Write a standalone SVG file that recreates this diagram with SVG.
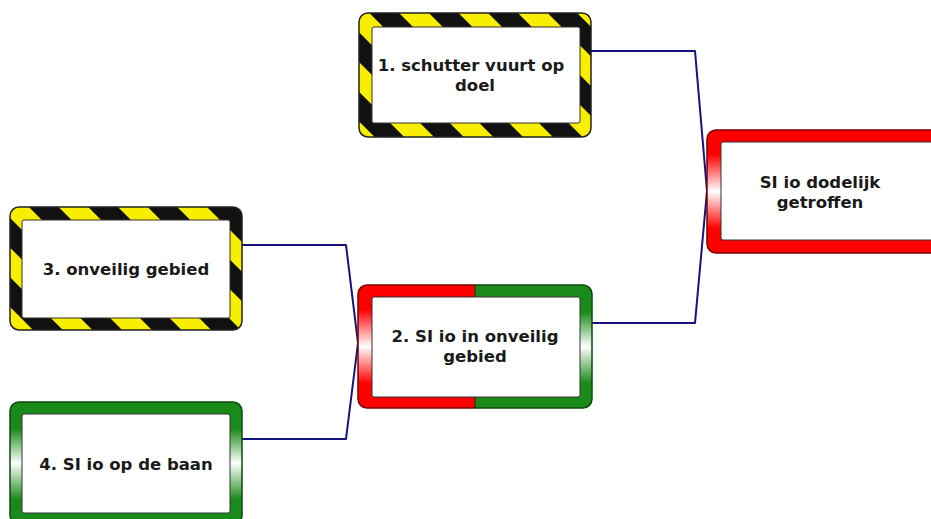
<svg xmlns="http://www.w3.org/2000/svg" width="931" height="519" viewBox="0 0 931 519">
<defs>
<pattern id="hazard" patternUnits="userSpaceOnUse" width="42" height="42" patternTransform="rotate(-45)">
<rect x="0" y="0" width="42" height="42" fill="#f7ee00"/>
<rect x="0" y="0" width="21" height="42" fill="#111"/>
</pattern>
<linearGradient id="redg" x1="0" y1="0" x2="0" y2="1">
<stop offset="0" stop-color="#ff0000"/>
<stop offset="0.2" stop-color="#ff0000"/>
<stop offset="0.5" stop-color="#ffffff"/>
<stop offset="0.8" stop-color="#ff0000"/>
<stop offset="1" stop-color="#ff0000"/>
</linearGradient>
<linearGradient id="greeng" x1="0" y1="0" x2="0" y2="1">
<stop offset="0" stop-color="#1a8a1a"/>
<stop offset="0.22" stop-color="#1a8a1a"/>
<stop offset="0.5" stop-color="#ffffff"/>
<stop offset="0.8" stop-color="#1a8a1a"/>
<stop offset="1" stop-color="#1a8a1a"/>
</linearGradient>
<clipPath id="leftHalf"><rect x="350" y="270" width="125" height="150"/></clipPath>
<clipPath id="rightHalf"><rect x="475" y="270" width="130" height="150"/></clipPath>
</defs>
<style>
.haz{fill:url(#hazard);stroke:#222;stroke-width:1.5}
.red{fill:url(#redg);stroke:#7a0000;stroke-width:1.5}
.green{fill:url(#greeng);stroke:#0b4a0b;stroke-width:1.5}
.inner{fill:#ffffff;stroke:#333;stroke-width:1}
.lbl{font-family:"DejaVu Sans",Verdana,sans-serif;font-weight:bold;font-size:16.5px;fill:#1a1a1a;text-anchor:middle}
.conn{fill:none;stroke:#14147a;stroke-width:2;stroke-linejoin:round}
</style>
<rect width="931" height="519" fill="#ffffff"/>
<g id="connectors">
<polyline class="conn" points="590,51 695,51 707,191"/>
<polyline class="conn" points="592,323 695,323 707,191"/>
<polyline class="conn" points="242,245 346,245 358,343"/>
<polyline class="conn" points="242,439 346,439 358,343"/>
</g>
<g id="node1">
<rect class="haz" x="359" y="13" width="232" height="124" rx="9"/>
<rect class="inner" x="372" y="27" width="208" height="96" rx="2"/>
<text class="lbl" x="471" y="71">1. schutter vuurt op</text>
<text class="lbl" x="475" y="91">doel</text>
</g>
<g id="nodeTop">
<rect class="red" x="707" y="130" width="232" height="123" rx="9"/>
<rect class="inner" x="721" y="142" width="220" height="98" rx="2"/>
<text class="lbl" x="820" y="188">SI io dodelijk</text>
<text class="lbl" x="820" y="208">getroffen</text>
</g>
<g id="node3">
<rect class="haz" x="10" y="207" width="232" height="123" rx="9"/>
<rect class="inner" x="22" y="220" width="208" height="98" rx="2"/>
<text class="lbl" x="126" y="275">3. onveilig gebied</text>
</g>
<g id="node2">
<rect class="red" x="358" y="285" width="234" height="123" rx="9" clip-path="url(#leftHalf)"/>
<rect class="green" x="358" y="285" width="234" height="123" rx="9" clip-path="url(#rightHalf)"/>
<line x1="475" y1="285" x2="475" y2="408" stroke="#222" stroke-width="1"/>
<rect class="inner" x="372" y="297" width="208" height="100" rx="2"/>
<text class="lbl" x="475" y="342">2. SI io in onveilig</text>
<text class="lbl" x="475" y="362">gebied</text>
</g>
<g id="node4">
<rect class="green" x="10" y="402" width="232" height="122" rx="9"/>
<rect class="inner" x="22" y="414" width="208" height="99" rx="2"/>
<text class="lbl" x="126" y="470">4. SI io op de baan</text>
</g>
</svg>
